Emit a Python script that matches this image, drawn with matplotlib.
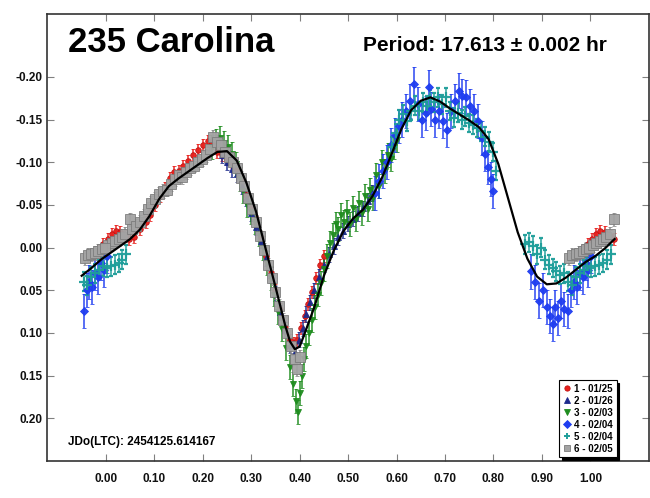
import numpy as np
import matplotlib
matplotlib.use("Agg")
import matplotlib.pyplot as plt
from matplotlib.lines import Line2D

plt.rcParams['font.family'] = ['Liberation Sans', 'DejaVu Sans']

# ---------------- data (phase, magnitude) ----------------
title = "235 Carolina"
period_text = "Period: 17.613 \u00b1 0.002 hr"
epoch_text = "JDo(LTC): 2454125.614167"

labels = ["1 - 01/25", "2 - 01/26", "3 - 02/03", "4 - 02/04", "5 - 02/04", "6 - 02/05"]

s1_phase = [0.985, 0.995, 0.004, 0.012, 0.020, 0.030, 0.040, 0.048, 0.058, 0.070, 0.082, 0.092,
            0.102, 0.112, 0.122, 0.132, 0.140, 0.150, 0.160, 0.170, 0.180, 0.190, 0.200, 0.210,
            0.220, 0.230, 0.240, 0.250, 0.260, 0.270, 0.280, 0.290, 0.300, 0.310, 0.320, 0.330,
            0.340, 0.350, 0.360, 0.370, 0.380, 0.388, 0.395, 0.402, 0.410, 0.418, 0.426, 0.434,
            0.442, 0.450]
s1_mag = [0.004, -0.004, -0.010, -0.016, -0.020, -0.018, -0.014, -0.010, -0.012, -0.022, -0.030, -0.038,
          -0.050, -0.060, -0.070, -0.082, -0.088, -0.090, -0.096, -0.102, -0.108, -0.114, -0.120, -0.125,
          -0.122, -0.112, -0.108, -0.104, -0.100, -0.092, -0.078, -0.062, -0.046, -0.030, -0.012, 0.010,
          0.030, 0.050, 0.072, 0.094, 0.108, 0.112, 0.108, 0.094, 0.080, 0.066, 0.052, 0.036,
          0.020, 0.010]

s2_phase = [0.240, 0.250, 0.260, 0.270, 0.280, 0.290, 0.300, 0.310, 0.320, 0.330, 0.340, 0.350,
            0.360, 0.370, 0.380, 0.390, 0.398, 0.406, 0.414, 0.422, 0.430, 0.440, 0.450, 0.460,
            0.470, 0.480, 0.490, 0.500, 0.510, 0.520, 0.530, 0.540, 0.550]
s2_mag = [-0.108, -0.100, -0.092, -0.086, -0.072, -0.058, -0.040, -0.024, -0.008, 0.012, 0.032, 0.054,
          0.076, 0.096, 0.114, 0.122, 0.108, 0.094, 0.078, 0.064, 0.050, 0.034, 0.020, 0.008,
          -0.002, -0.012, -0.020, -0.028, -0.034, -0.040, -0.046, -0.055, -0.064]

s3_phase = [0.220, 0.228, 0.236, 0.244, 0.252, 0.260, 0.268, 0.276, 0.284, 0.292, 0.300, 0.308,
            0.316, 0.324, 0.332, 0.340, 0.348, 0.356, 0.364, 0.372, 0.380, 0.386, 0.392, 0.396,
            0.400, 0.404, 0.408, 0.414, 0.420, 0.426, 0.432, 0.438, 0.444, 0.450, 0.456, 0.462,
            0.468, 0.474, 0.480, 0.486, 0.492, 0.498, 0.504, 0.510, 0.516, 0.522, 0.528, 0.534,
            0.540, 0.546, 0.552, 0.558, 0.564, 0.570, 0.576, 0.582, 0.588, 0.594, 0.600]
s3_mag = [-0.118, -0.125, -0.128, -0.122, -0.118, -0.110, -0.098, -0.080, -0.066, -0.050, -0.042, -0.030,
          -0.016, 0.000, 0.018, 0.036, 0.055, 0.075, 0.095, 0.118, 0.140, 0.160, 0.180, 0.193,
          0.170, 0.150, 0.130, 0.115, 0.100, 0.085, 0.070, 0.055, 0.042, 0.025, 0.010, -0.005,
          -0.015, -0.028, -0.022, -0.038, -0.030, -0.042, -0.028, -0.046, -0.034, -0.052, -0.040, -0.060,
          -0.045, -0.068, -0.058, -0.085, -0.072, -0.100, -0.090, -0.108, -0.104, -0.118, -0.126]

s4_phase = [0.556, 0.564, 0.572, 0.580, 0.588, 0.596, 0.604, 0.612, 0.620, 0.628, 0.636, 0.644,
            0.652, 0.660, 0.666, 0.672, 0.680, 0.688, 0.696, 0.704, 0.712, 0.720, 0.728, 0.736,
            0.744, 0.752, 0.760, 0.768, 0.776, 0.782, 0.788, 0.794, 0.800,
            0.878, 0.886, 0.894, 0.902, 0.910, 0.916, 0.922, 0.928, 0.934, 0.940, 0.946, 0.954,
            0.960, 0.966, 0.972, 0.978, 0.984, 0.990, 0.996, 0.002]
s4_mag = [-0.064, -0.078, -0.090, -0.100, -0.120, -0.132, -0.142, -0.150, -0.160, -0.172, -0.192, -0.168,
          -0.150, -0.158, -0.188, -0.162, -0.150, -0.160, -0.148, -0.138, -0.160, -0.172, -0.184, -0.178,
          -0.176, -0.166, -0.160, -0.148, -0.128, -0.110, -0.094, -0.080, -0.066,
          0.028, 0.040, 0.062, 0.050, 0.070, 0.080, 0.090, 0.070, 0.082, 0.062, 0.072, 0.074,
          0.050, 0.040, 0.046, 0.030, 0.034, 0.018, 0.026, 0.010]

s5_phase = [0.590, 0.598, 0.606, 0.614, 0.622, 0.630, 0.638, 0.646, 0.654, 0.662, 0.670, 0.678,
            0.686, 0.694, 0.702, 0.710, 0.718, 0.726, 0.734, 0.742, 0.750, 0.758, 0.766, 0.774,
            0.782, 0.790, 0.798, 0.806,
            0.866, 0.874, 0.882, 0.890, 0.898, 0.906, 0.914, 0.922, 0.930, 0.938, 0.946, 0.954,
            0.962, 0.970, 0.978, 0.986, 0.994, 0.002, 0.010, 0.018, 0.026, 0.034, 0.042]
s5_mag = [-0.118, -0.134, -0.150, -0.156, -0.148, -0.160, -0.166, -0.160, -0.170, -0.166, -0.174, -0.170,
          -0.176, -0.168, -0.176, -0.160, -0.152, -0.158, -0.150, -0.154, -0.146, -0.144, -0.140, -0.136,
          -0.130, -0.124, -0.112, -0.090,
          -0.004, -0.006, -0.002, 0.008, 0.000, 0.014, 0.020, 0.024, 0.028, 0.032, 0.030, 0.040,
          0.044, 0.034, 0.030, 0.026, 0.022, 0.024, 0.022, 0.020, 0.018, 0.014, 0.008]

s6_phase = [0.956, 0.963, 0.970, 0.977, 0.984, 0.991, 0.998, 0.005, 0.012, 0.019, 0.026, 0.033,
            0.040, 0.049, 0.054, 0.062, 0.070, 0.078, 0.086, 0.094, 0.102, 0.110, 0.118, 0.126,
            0.134, 0.142, 0.150, 0.158, 0.166, 0.174, 0.182, 0.190, 0.198, 0.206, 0.214, 0.222,
            0.230, 0.238, 0.246, 0.254, 0.262, 0.270, 0.278, 0.286, 0.294, 0.302, 0.310, 0.318,
            0.326, 0.334, 0.342, 0.350, 0.358, 0.366, 0.374, 0.382, 0.390, 0.395, 0.400]
s6_mag = [0.012, 0.009, 0.008, 0.006, 0.004, 0.002, 0.000, -0.003, -0.005, -0.008, -0.010, -0.012,
          -0.016, -0.033, -0.022, -0.025, -0.030, -0.037, -0.045, -0.052, -0.057, -0.063, -0.066, -0.068,
          -0.074, -0.080, -0.085, -0.083, -0.088, -0.093, -0.096, -0.100, -0.104, -0.108, -0.115, -0.130,
          -0.124, -0.120, -0.112, -0.106, -0.100, -0.093, -0.082, -0.072, -0.058, -0.045, -0.030, -0.013,
          0.003, 0.020, 0.036, 0.052, 0.068, 0.085, 0.100, 0.115, 0.130, 0.142, 0.128]

# per-series typical error (mag)
errors = [0.007, 0.009, 0.014, 0.020, 0.011, 0.008]

# Fourier fit curve
fit_phase = [-0.05, -0.03, -0.01, 0.01, 0.03, 0.05, 0.07, 0.09, 0.11, 0.13, 0.15, 0.17, 0.19, 0.21,
             0.23, 0.25, 0.27, 0.29, 0.31, 0.33, 0.35, 0.37, 0.38, 0.39, 0.40, 0.41, 0.43, 0.45,
             0.47, 0.49, 0.51, 0.53, 0.55, 0.57, 0.59, 0.61, 0.63, 0.65, 0.67, 0.69, 0.71, 0.73,
             0.75, 0.77, 0.79, 0.81, 0.83, 0.85, 0.87, 0.89, 0.91, 0.93, 0.95, 0.97, 0.99, 1.01,
             1.03, 1.05]
fit_mag = [0.033, 0.024, 0.014, 0.006, -0.002, -0.010, -0.021, -0.037, -0.057, -0.072, -0.081, -0.089,
           -0.097, -0.105, -0.112, -0.113, -0.102, -0.076, -0.042, 0.002, 0.046, 0.091, 0.110, 0.119,
           0.116, 0.101, 0.070, 0.033, 0.004, -0.019, -0.034, -0.044, -0.060, -0.082, -0.110, -0.139,
           -0.161, -0.172, -0.176, -0.171, -0.163, -0.156, -0.149, -0.141, -0.127, -0.098, -0.058, -0.018,
           0.013, 0.034, 0.043, 0.042, 0.035, 0.026, 0.017, 0.010, 0.001, -0.010]

x_ticks = [0.0, 0.1, 0.2, 0.3, 0.4, 0.5, 0.6, 0.7, 0.8, 0.9, 1.0]
y_ticks = [-0.20, -0.15, -0.10, -0.05, 0.0, 0.05, 0.10, 0.15, 0.20]

# ---------------- styles ----------------
styles = [
    dict(marker='o', color='#e8201c', mfc='#e8201c', mec='#c01010', ms=4.0, mew=0.6),
    dict(marker='^', color='#1c2a8c', mfc='#1c2a8c', mec='#1c2a8c', ms=4.2, mew=0.6),
    dict(marker='v', color='#1e8c1e', mfc='#1e8c1e', mec='#1e8c1e', ms=4.8, mew=0.6),
    dict(marker='D', color='#1f3df0', mfc='#1f3df0', mec='#1f3df0', ms=3.6, mew=0.6),
    dict(marker='+', color='#1e9e9a', mfc='#1e9e9a', mec='#1e9e9a', ms=7.5, mew=1.6),
    dict(marker='s', color='#8a8a8a', mfc='#a3a3a3', mec='#7a7a7a', ms=7.2, mew=0.6),
]


def wrap(ph, mg):
    ph = np.asarray(ph, float)
    mg = np.asarray(mg, float)
    lo = ph < 0.052
    hi = ph > 0.952
    return (np.concatenate([ph, ph[lo] + 1.0, ph[hi] - 1.0]),
            np.concatenate([mg, mg[lo], mg[hi]]))


fig = plt.figure(figsize=(6.5, 4.98), dpi=100)
ax = fig.add_axes([0.072, 0.0743, 0.9257, 0.8982])

series = [(s1_phase, s1_mag), (s2_phase, s2_mag), (s3_phase, s3_mag),
          (s4_phase, s4_mag), (s5_phase, s5_mag), (s6_phase, s6_mag)]

handles = []
for (ph, mg), err, st, lab in zip(series, errors, styles, labels):
    x, y = wrap(ph, mg)
    ax.errorbar(x, y, yerr=err, fmt=st['marker'], color=st['color'], mfc=st['mfc'],
                mec=st['mec'], ms=st['ms'], mew=st['mew'],
                elinewidth=1.1, capsize=1.5, capthick=1.0, ls='none', alpha=0.95, zorder=2)
    handles.append(Line2D([], [], ls='none', marker=st['marker'], color=st['color'],
                          mfc=st['mfc'], mec=st['mec'],
                          ms=4.5 if st['marker'] == '+' else 3.8,
                          mew=1.4 if st['marker'] == '+' else 0.6))

ax.plot(fit_phase, fit_mag, color='black', lw=1.6, zorder=5)

ax.set_xlim(-0.122, 1.12)
ax.set_ylim(0.25, -0.274)
ax.set_xticks(x_ticks)
ax.set_yticks(y_ticks)
ax.set_xticklabels([f"{v:.2f}" for v in x_ticks])
ax.set_yticklabels([f"{v:.2f}" for v in y_ticks])
ax.tick_params(direction='in', length=5, width=0.8, color='#808080',
               top=True, right=True, labelsize=8.5, labelcolor='#111111')
ax.tick_params(axis='x', pad=9)
ax.tick_params(axis='y', pad=3)
for lab in ax.get_xticklabels() + ax.get_yticklabels():
    lab.set_fontweight('bold')
for sp in ax.spines.values():
    sp.set_linewidth(1.2)
    sp.set_color('#333333')

ax.text(0.035, 0.915, title, transform=ax.transAxes, fontsize=25, fontweight='bold',
        ha='left', va='baseline')
ax.text(0.526, 0.917, period_text, transform=ax.transAxes, fontsize=15, fontweight='bold',
        ha='left', va='baseline')
ax.text(0.035, 0.035, epoch_text, transform=ax.transAxes, fontsize=8.5, fontweight='bold',
        ha='left', va='baseline')

leg = ax.legend(handles, labels, loc='lower right', bbox_to_anchor=(0.947, 0.008),
                frameon=True, fancybox=False, edgecolor='black',
                shadow={'color': 'black', 'alpha': 1.0}, handlelength=0.8,
                handletextpad=0.35, labelspacing=0.2, borderpad=0.4, borderaxespad=0.0,
                prop={'weight': 'bold', 'size': 7})
leg.get_frame().set_linewidth(0.8)
leg.set_zorder(10)

fig.savefig("out.png", dpi=100)
